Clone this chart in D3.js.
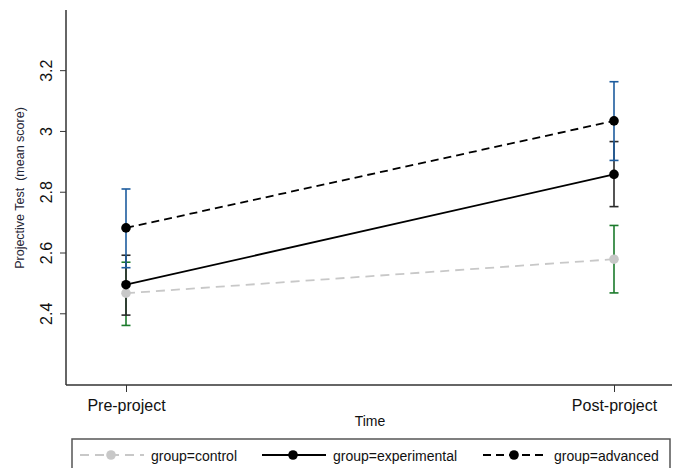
<!DOCTYPE html>
<html>
<head>
<meta charset="utf-8">
<script src="https://cdn.jsdelivr.net/npm/d3@7"></script>
<style>
  body { margin: 0; background: #fff; }
  svg { display: block; font-family: "Liberation Sans", Arial, sans-serif; }
</style>
</head>
<body>
<svg id="chart" width="678" height="468"></svg>
<script>
// data
const times = ['Pre-project', 'Post-project'];
const groups = ['control', 'experimental', 'advanced'];
const controlMean = [2.466, 2.578];
const controlLow = [2.36, 2.467];
const controlHigh = [2.568, 2.689];
const experimentalMean = [2.494, 2.857];
const experimentalLow = [2.394, 2.751];
const experimentalHigh = [2.591, 2.965];
const advancedMean = [2.681, 3.033];
const advancedLow = [2.55, 2.903];
const advancedHigh = [2.809, 3.162];
const yTicks = [2.4, 2.6, 2.8, 3, 3.2];

const series = [
  { name: 'control', mean: controlMean, low: controlLow, high: controlHigh,
    line: '#c8c8c8', dash: '9,6', ci: '#1b7a2b', dot: '#c8c8c8' },
  { name: 'experimental', mean: experimentalMean, low: experimentalLow, high: experimentalHigh,
    line: '#000', dash: null, ci: '#2a2a2a', dot: '#000' },
  { name: 'advanced', mean: advancedMean, low: advancedLow, high: advancedHigh,
    line: '#000', dash: '8,5', ci: '#1d5c9e', dot: '#000' },
];

const svg = d3.select('#chart');
const x = d3.scalePoint().domain(times).range([126, 614]);
const y = d3.scaleLinear().domain([2.164, 3.398]).range([385, 10]);

// axes
const yAxis = svg.append('g')
  .attr('transform', 'translate(66,0)')
  .call(d3.axisLeft(y).tickValues(yTicks).tickSize(6).tickFormat(d3.format('')));
yAxis.select('.domain').remove();
yAxis.selectAll('.tick line').attr('stroke', '#333');
yAxis.selectAll('.tick text')
  .attr('x', null).attr('dy', null)
  .attr('transform', 'translate(-14,0) rotate(-90)')
  .attr('text-anchor', 'middle')
  .style('font-size', '16px')
  .attr('fill', '#111');

svg.append('line')
  .attr('x1', 66).attr('x2', 66).attr('y1', 10).attr('y2', 385)
  .attr('stroke', '#333').attr('stroke-width', 1.5);

const xAxis = svg.append('g')
  .attr('transform', 'translate(0,385)')
  .call(d3.axisBottom(x).tickSize(7).tickPadding(8));
xAxis.select('.domain').remove();
xAxis.selectAll('.tick line').attr('stroke', '#333');
xAxis.selectAll('.tick text').style('font-size', '16px').attr('fill', '#111');

svg.append('line')
  .attr('x1', 66).attr('x2', 672).attr('y1', 385).attr('y2', 385)
  .attr('stroke', '#333').attr('stroke-width', 1.5);

svg.append('text')
  .attr('transform', 'translate(24,188) rotate(-90)')
  .attr('text-anchor', 'middle')
  .style('font-size', '12.5px')
  .style('white-space', 'pre')
  .attr('fill', '#1f2636')
  .text('Projective Test  (mean score)');

svg.append('text')
  .attr('x', 370).attr('y', 426)
  .attr('text-anchor', 'middle')
  .style('font-size', '14px')
  .attr('fill', '#111')
  .text('Time');

// error bars
const cap = 4.5;
series.forEach(s => {
  const g = svg.append('g').attr('stroke', s.ci).attr('stroke-width', 1.6);
  times.forEach((t, i) => {
    g.append('line').attr('x1', x(t)).attr('x2', x(t))
      .attr('y1', y(s.low[i])).attr('y2', y(s.high[i]));
    [s.low[i], s.high[i]].forEach(v => {
      g.append('line').attr('x1', x(t) - cap).attr('x2', x(t) + cap)
        .attr('y1', y(v)).attr('y2', y(v));
    });
  });
});

// lines and markers
const line = d3.line().x((d, i) => x(times[i])).y(d => y(d));
series.forEach(s => {
  svg.append('path')
    .datum(s.mean)
    .attr('d', line)
    .attr('fill', 'none')
    .attr('stroke', s.line)
    .attr('stroke-width', 1.8)
    .attr('stroke-dasharray', s.dash);
  svg.selectAll(null)
    .data(s.mean)
    .join('circle')
    .attr('cx', (d, i) => x(times[i]))
    .attr('cy', d => y(d))
    .attr('r', 4.8)
    .attr('fill', s.dot);
});

// legend
svg.append('rect')
  .attr('x', 72).attr('y', 439).attr('width', 598).attr('height', 40)
  .attr('fill', 'none').attr('stroke', '#555').attr('stroke-width', 1.5);

const legendX = [80, 262, 483];
series.forEach((s, i) => {
  const lg = svg.append('g').attr('transform', `translate(${legendX[i]},455)`);
  lg.append('line').attr('x1', 0).attr('x2', 64).attr('y1', 0).attr('y2', 0)
    .attr('stroke', s.line).attr('stroke-width', 1.8)
    .attr('stroke-dasharray', s.dash);
  lg.append('circle').attr('cx', 31).attr('cy', 0).attr('r', 4.8).attr('fill', s.dot);
  lg.append('text').attr('x', 71).attr('y', 5.5)
    .style('font-size', '14px').attr('fill', '#111')
    .text('group=' + groups[i]);
});
</script>
</body>
</html>
